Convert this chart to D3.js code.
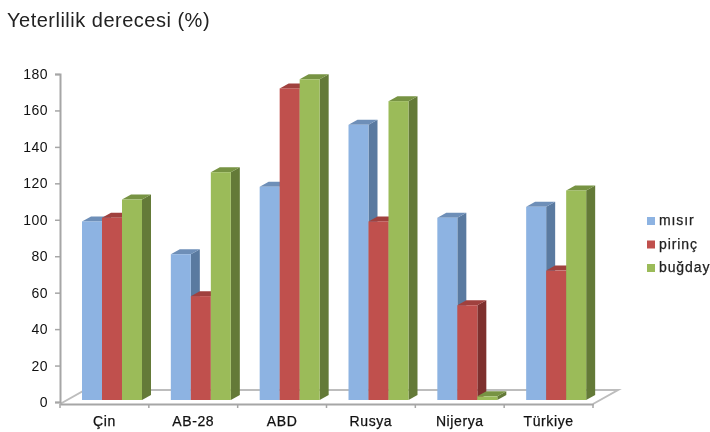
<!DOCTYPE html>
<html>
<head>
<meta charset="utf-8">
<script src="https://cdnjs.cloudflare.com/ajax/libs/d3/7.8.5/d3.min.js"></script>
<style>
  body { margin: 0; background: #fff; }
  svg { display: block; font-family: "Liberation Sans", Arial, sans-serif; filter: blur(0.4px); }
</style>
</head>
<body>
<div id="chart"></div>
<script>
// chart data
var categories = ["Çin", "AB-28", "ABD", "Rusya", "Nijerya", "Türkiye"];
var seriesNames = ["mısır", "pirinç", "buğday"];
var misir = [98, 80, 117, 151, 100, 106];
var pirinc = [100, 57, 171, 98, 52, 71];
var bugday = [110, 125, 176, 164, 2, 115];
var yTicks = [0, 20, 40, 60, 80, 100, 120, 140, 160, 180];

var seriesValues = [misir, pirinc, bugday];

// colours for front, top and side of each bar
var frontColors = ["#8db3e2", "#c0504d", "#9bbb59"];
var topColors = ["#6e8fb8", "#a0413e", "#779343"];
var sideColors = ["#5a7aa0", "#7e302e", "#647a38"];

var width = 710,
    height = 432,
    depthX = 9,
    depthY = 5,
    floorX = 25,
    floorY = 14,
    axisColor = "#a6a6a6";

var svg = d3.select("#chart")
            .append("svg")
            .attr("width", width)
            .attr("height", height);

// title
svg.append("text")
   .attr("x", 7)
   .attr("y", 27)
   .attr("font-size", 20)
   .attr("letter-spacing", 0.5)
   .attr("fill", "#222")
   .text("Yeterlilik derecesi (%)");

// scales
var x0 = d3.scaleBand().domain(categories).range([60, 593]);
var x1 = d3.scaleBand().domain(seriesNames).range([22, 82]);
var y = d3.scaleLinear().domain([0, 180]).range([402, 74]);

// floor of the 3d chart
var floorBase = y(0) + 2;
svg.append("path")
   .attr("d", "M" + x0.range()[0] + "," + floorBase +
              "L" + (x0.range()[0] + floorX) + "," + (floorBase - floorY) +
              "H" + (x0.range()[1] + floorX) +
              "L" + x0.range()[1] + "," + floorBase)
   .attr("fill", "none")
   .attr("stroke", "#bdbdbd")
   .attr("stroke-width", 2);

// y axis
var yAxis = svg.append("g")
               .attr("transform", "translate(60,0)")
               .call(d3.axisLeft(y).tickValues(yTicks).tickSize(5).tickPadding(7));
yAxis.selectAll("text")
     .attr("font-size", 14)
     .attr("letter-spacing", 0.5)
     .attr("fill", "#111")
     .attr("font-family", "Liberation Sans");
yAxis.selectAll("line").attr("stroke", axisColor).attr("stroke-width", 1.5);
yAxis.select(".domain").attr("stroke", axisColor).attr("stroke-width", 2);

// x axis
var xAxis = svg.append("g")
               .attr("transform", "translate(0," + floorBase + ")")
               .call(d3.axisBottom(x0).tickSize(0).tickPadding(12));
xAxis.selectAll("text")
     .attr("font-size", 14)
     .attr("letter-spacing", 0.6)
     .attr("fill", "#111")
     .attr("stroke", "#111")
     .attr("stroke-width", 0.25)
     .attr("font-family", "Liberation Sans");
xAxis.select(".domain").attr("stroke", axisColor).attr("stroke-width", 2);
xAxis.selectAll(".sep")
     .data(d3.range(categories.length + 1))
     .enter()
     .append("line")
     .attr("class", "sep")
     .attr("x1", function(d) { return x0.range()[0] + d * x0.step(); })
     .attr("x2", function(d) { return x0.range()[0] + d * x0.step(); })
     .attr("y1", 0)
     .attr("y2", 4)
     .attr("stroke", axisColor)
     .attr("stroke-width", 1.5);

// bars, left to right so that the next bar covers the side of the last one
var barBase = y(0) - 2;
categories.forEach(function(cat, c) {
  seriesNames.forEach(function(name, s) {
    var left = x0(cat) + x1(name),
        right = left + x1.bandwidth(),
        top = y(seriesValues[s][c]) - 2,
        g = svg.append("g");

    g.append("path")
     .attr("d", "M" + right + "," + top + "l" + depthX + "," + (-depthY) +
                "V" + (barBase - depthY) + "L" + right + "," + barBase + "Z")
     .attr("fill", sideColors[s]);

    g.append("path")
     .attr("d", "M" + left + "," + top + "l" + depthX + "," + (-depthY) +
                "H" + (right + depthX) + "L" + right + "," + top + "Z")
     .attr("fill", topColors[s]);

    g.append("rect")
     .attr("x", left)
     .attr("y", top)
     .attr("width", x1.bandwidth())
     .attr("height", barBase - top)
     .attr("fill", frontColors[s]);
  });
});

// legend
var legend = svg.selectAll(".legend")
                .data(seriesNames)
                .enter()
                .append("g")
                .attr("class", "legend")
                .attr("transform", function(d, i) { return "translate(647," + (221 + i * 23.5) + ")"; });

legend.append("rect")
      .attr("y", -4)
      .attr("width", 8)
      .attr("height", 8)
      .attr("fill", function(d, i) { return frontColors[i]; });

legend.append("text")
      .attr("x", 12)
      .attr("y", 4)
      .attr("font-size", 14)
      .attr("letter-spacing", 0.9)
      .attr("fill", "#222")
      .attr("stroke", "#222")
      .attr("stroke-width", 0.25)
      .text(function(d) { return d; });
</script>
</body>
</html>
